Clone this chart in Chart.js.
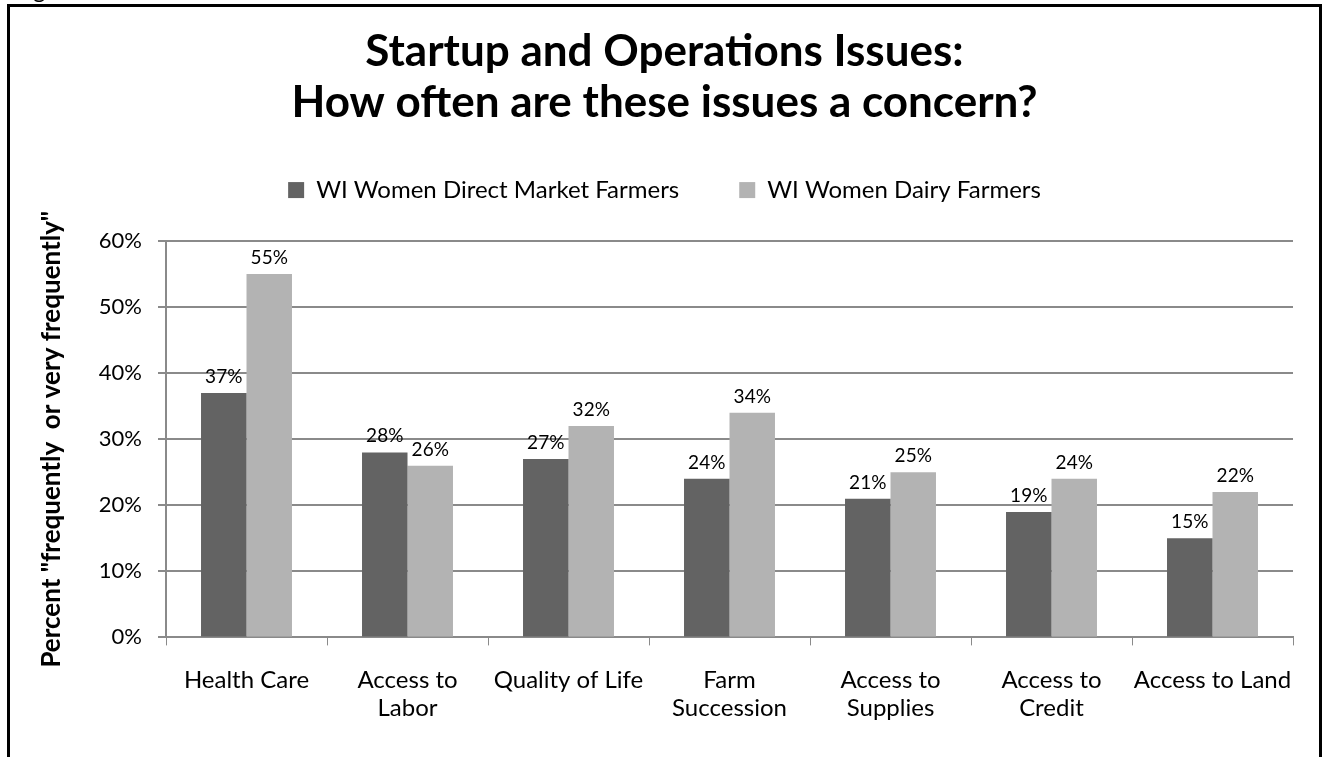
<!DOCTYPE html>
<html>
<head>
<meta charset="utf-8">
<title>Startup and Operations Issues</title>
<script src="https://cdn.jsdelivr.net/npm/chart.js@4"></script>
<style>
  html, body { margin: 0; padding: 0; background: #fff; }
  #wrap { width: 1323px; height: 757px; position: relative; }
</style>
</head>
<body>
<div id="wrap"><canvas id="issuesChart" width="1323" height="757"></canvas></div>
<script>
const categories = [
  'Health Care',
  ['Access to', 'Labor'],
  'Quality of Life',
  ['Farm', 'Succession'],
  ['Access to', 'Supplies'],
  ['Access to', 'Credit'],
  'Access to Land'
];
const directMarket = [37, 28, 27, 24, 21, 19, 15];
const dairy = [55, 26, 32, 34, 25, 24, 22];
const yTicks = [0, 10, 20, 30, 40, 50, 60];

const FONT = 'Lato, "Open Sans", sans-serif';
const GRID = '#8a8a8a';

// empty box between legend and plot so the plot starts lower
const legendGap = {
  id: 'legendGap',
  beforeInit(chart) {
    Chart.layouts.addBox(chart, {
      position: 'top',
      weight: 0,
      fullSize: true,
      options: {},
      update(w) { this.width = w; this.height = 29; },
      isHorizontal() { return true; },
      draw() {}
    });
  }
};

// frame around the figure plus the caption tail peeking in at the top
const framePlugin = {
  id: 'frame',
  afterDraw(chart) {
    const c = chart.ctx;
    c.save();
    c.strokeStyle = '#000';
    c.lineWidth = 3;
    c.beginPath();
    c.moveTo(8.5, 757);
    c.lineTo(8.5, 5.5);
    c.lineTo(1320.5, 5.5);
    c.lineTo(1320.5, 757);
    c.stroke();
    c.fillStyle = '#000';
    c.font = '24px ' + FONT;
    c.textBaseline = 'alphabetic';
    c.fillText('g', 33, -2);
    c.restore();
  }
};

// value labels above each bar
const valueLabels = {
  id: 'valueLabels',
  afterDatasetsDraw(chart) {
    const c = chart.ctx;
    c.save();
    c.font = '19px ' + FONT;
    c.fillStyle = '#000';
    c.textAlign = 'center';
    c.textBaseline = 'alphabetic';
    chart.data.datasets.forEach((ds, i) => {
      chart.getDatasetMeta(i).data.forEach((bar, j) => {
        c.fillText(ds.data[j] + '%', bar.x, bar.y - 10);
      });
    });
    c.restore();
  }
};

new Chart(document.getElementById('issuesChart').getContext('2d'), {
  type: 'bar',
  data: {
    labels: categories,
    datasets: [{
      label: 'WI Women Direct Market Farmers',
      data: directMarket,
      backgroundColor: '#636363'
    }, {
      label: 'WI Women Dairy Farmers',
      data: dairy,
      backgroundColor: '#b3b3b3'
    }]
  },
  options: {
    responsive: false,
    animation: false,
    layout: { padding: { top: 26, left: 36, right: 30, bottom: 14 } },
    datasets: { bar: { categoryPercentage: 0.565, barPercentage: 1.0 } },
    plugins: {
      title: {
        display: true,
        text: ['Startup and Operations Issues:', 'How often are these issues a concern?'],
        color: '#000',
        font: { family: FONT, size: 44, weight: 'bold', lineHeight: 1.16 },
        padding: { top: 0, bottom: -10 }
      },
      legend: {
        display: true,
        labels: {
          color: '#000',
          font: { family: FONT, size: 24 },
          boxWidth: 16,
          boxHeight: 16,
          padding: 60
        }
      },
      tooltip: { enabled: false }
    },
    scales: {
      x: {
        grid: { drawOnChartArea: false, drawTicks: true, tickLength: 8, offset: true, color: GRID },
        border: { color: GRID, width: 2 },
        ticks: {
          color: '#000',
          font: { family: FONT, size: 24, lineHeight: 1.2 },
          padding: 20,
          maxRotation: 0,
          autoSkip: false
        }
      },
      y: {
        min: 0,
        max: 60,
        afterBuildTicks(scale) { scale.ticks = yTicks.map(v => ({ value: v })); },
        afterFit(scale) { scale.width = 130; },
        grid: { color: GRID, lineWidth: 2, tickLength: 8 },
        border: { color: GRID, width: 2 },
        ticks: {
          color: '#000',
          font: { family: FONT, size: 22 },
          padding: 16,
          autoSkip: false,
          callback: v => v + '%'
        },
        title: {
          display: true,
          text: 'Percent "frequently  or very frequently"',
          color: '#000',
          font: { family: FONT, size: 26, weight: 'bold' },
          padding: 0
        }
      }
    }
  },
  plugins: [legendGap, framePlugin, valueLabels]
});
</script>
</body>
</html>
